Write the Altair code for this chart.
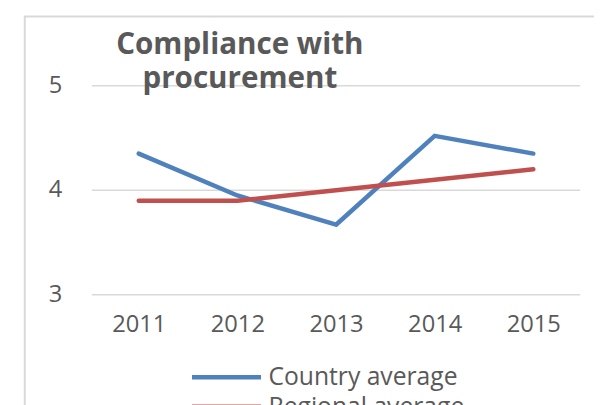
import altair as alt
import pandas as pd

years = ["2011", "2012", "2013", "2014", "2015"]
country_avg = [4.35, 3.95, 3.67, 4.52, 4.35]
regional_avg = [3.9, 3.9, 4.0, 4.1, 4.2]
series_names = ["Country average", "Regional average"]
series_colors = ["#4f81bd", "#c0504d"]
y_ticks = [3, 4, 5]
title_lines = ["Compliance with", "procurement"]

rows = []
for name, vals in zip(series_names, [country_avg, regional_avg]):
    for yr, v in zip(years, vals):
        rows.append({"Year": yr, "Value": v, "Series": name})
df = pd.DataFrame(rows)
ticks_df = pd.DataFrame({"Value": y_ticks, "Label": [str(t) for t in y_ticks]})

FONT = "Open Sans"
GREY = "#595959"
W, H = 495, 212
yscale = alt.Scale(domain=[3, 5], nice=False, zero=False)

frame = alt.Chart(pd.DataFrame({"a": [0]})).mark_rect(
    fillOpacity=0, stroke="#d9d9d9", strokeWidth=2
).encode(
    x=alt.value(-68), x2=alt.value(W + 40), y=alt.value(-70), y2=alt.value(H + 160)
)

grid = alt.Chart(ticks_df).mark_rule(color="#d9d9d9", strokeWidth=1.5).encode(
    y=alt.Y("Value:Q", scale=yscale, axis=None),
    x=alt.value(0), x2=alt.value(W),
)

ylabels = alt.Chart(ticks_df).mark_text(
    font=FONT, fontSize=24, color=GREY, align="right", baseline="middle"
).encode(
    y=alt.Y("Value:Q", scale=yscale, axis=None),
    x=alt.value(-30), text="Label:N",
)

title = alt.Chart(pd.DataFrame({"t": ["\n".join(title_lines)]})).mark_text(
    font=FONT, fontSize=30, fontWeight="bold", color=GREY, align="center",
    baseline="alphabetic", lineBreak="\n", lineHeight=34
).encode(x=alt.value(150), y=alt.value(-32), text="t:N")

lines = alt.Chart(df).mark_line(strokeWidth=4.5, strokeJoin="round", strokeCap="round").encode(
    x=alt.X("Year:O", sort=years,
            scale=alt.Scale(type="point", padding=0.475),
            axis=alt.Axis(title=None, labelAngle=0, labelFont=FONT, labelFontSize=24,
                          labelColor=GREY, labelPadding=18, domain=False, ticks=False,
                          grid=False)),
    y=alt.Y("Value:Q", scale=yscale, axis=None),
    color=alt.Color("Series:N", sort=series_names,
                    scale=alt.Scale(domain=series_names, range=series_colors),
                    legend=alt.Legend(title=None, orient="none", legendX=121, legendY=280,
                                      symbolType="M-2.69,0H2.69", symbolSize=676,
                                      symbolStrokeWidth=4.5, labelFont=FONT,
                                      labelFontSize=25, labelColor=GREY, labelOffset=27,
                                      labelLimit=400, rowPadding=1, padding=0)),
)

chart = alt.layer(frame, grid, ylabels, lines, title).properties(
    width=W, height=H,
    autosize=alt.AutoSizeParams(type="none"),
    padding={"left": 85, "top": 76, "right": 14, "bottom": 109},
    background="white",
).configure_view(strokeWidth=0)

chart.save("out.html", embed_options={"renderer": "svg", "actions": False})
